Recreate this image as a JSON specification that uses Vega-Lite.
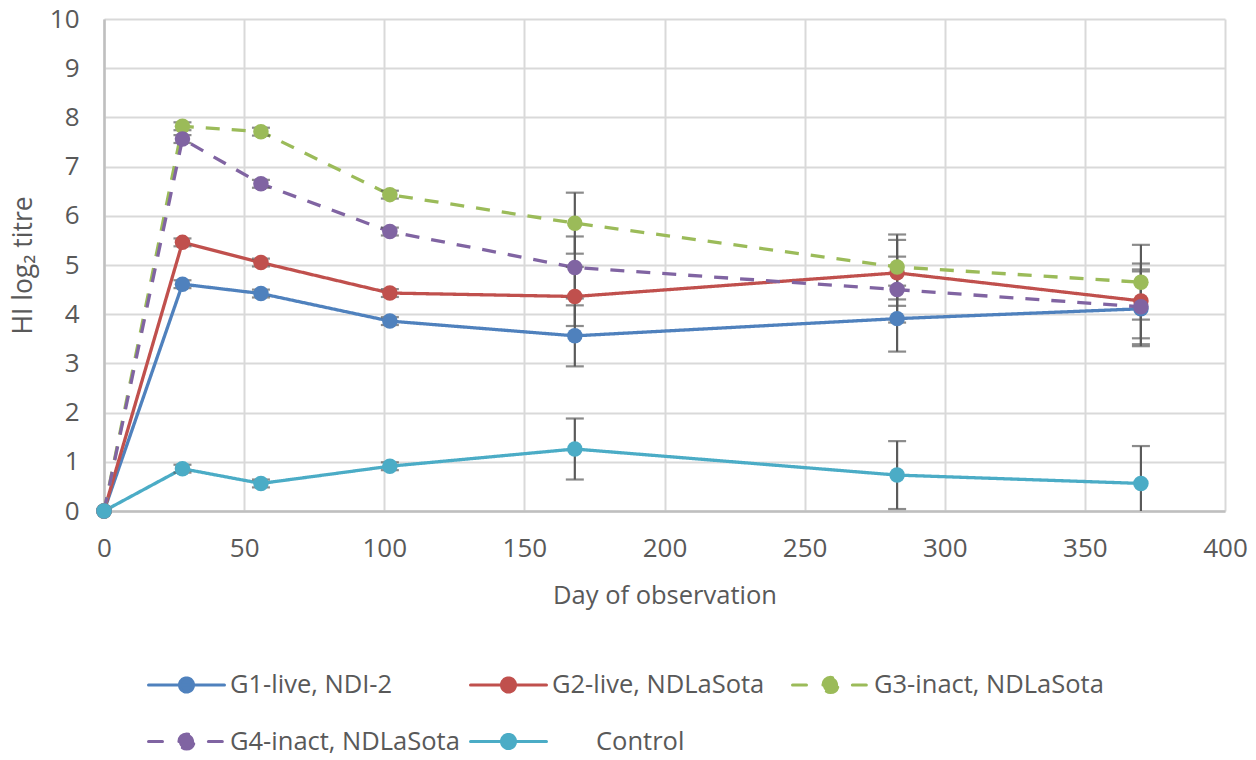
{
  "$schema": "https://vega.github.io/schema/vega-lite/v6.json",
  "width": 1121,
  "height": 492,
  "autosize": {"type": "none"},
  "padding": {"left": 104, "top": 19, "right": 31, "bottom": 249},
  "background": "white",
  "config": {
    "font": "Open Sans",
    "view": {"stroke": null},
    "axis": {
      "domainColor": "#BFBFBF",
      "domainWidth": 2.5,
      "gridColor": "#D9D9D9",
      "gridWidth": 2,
      "ticks": false,
      "tickSize": 0,
      "labelFlush": false,
      "labelFontSize": 26,
      "labelColor": "#595959",
      "titleColor": "#595959",
      "titleFontWeight": "normal",
      "titleFontSize": 25.5
    }
  },
  "data": {
    "values": [
      {"group": "G1-live, NDI-2", "day": 0, "titre": 0, "err": 0},
      {"group": "G1-live, NDI-2", "day": 28, "titre": 4.61, "err": 0.08},
      {"group": "G1-live, NDI-2", "day": 56, "titre": 4.42, "err": 0.08},
      {"group": "G1-live, NDI-2", "day": 102, "titre": 3.86, "err": 0.08},
      {"group": "G1-live, NDI-2", "day": 168, "titre": 3.56, "err": 0.62},
      {"group": "G1-live, NDI-2", "day": 283, "titre": 3.91, "err": 0.67},
      {"group": "G1-live, NDI-2", "day": 370, "titre": 4.11, "err": 0.76},
      {"group": "G2-live, NDLaSota", "day": 0, "titre": 0, "err": 0},
      {"group": "G2-live, NDLaSota", "day": 28, "titre": 5.46, "err": 0.08},
      {"group": "G2-live, NDLaSota", "day": 56, "titre": 5.05, "err": 0.08},
      {"group": "G2-live, NDLaSota", "day": 102, "titre": 4.43, "err": 0.08},
      {"group": "G2-live, NDLaSota", "day": 168, "titre": 4.36, "err": 0.6},
      {"group": "G2-live, NDLaSota", "day": 283, "titre": 4.84, "err": 0.67},
      {"group": "G2-live, NDLaSota", "day": 370, "titre": 4.27, "err": 0.76},
      {"group": "G3-inact, NDLaSota", "day": 0, "titre": 0, "err": 0},
      {"group": "G3-inact, NDLaSota", "day": 28, "titre": 7.82, "err": 0.08},
      {"group": "G3-inact, NDLaSota", "day": 56, "titre": 7.71, "err": 0.08},
      {"group": "G3-inact, NDLaSota", "day": 102, "titre": 6.43, "err": 0.08},
      {"group": "G3-inact, NDLaSota", "day": 168, "titre": 5.85, "err": 0.62},
      {"group": "G3-inact, NDLaSota", "day": 283, "titre": 4.96, "err": 0.66},
      {"group": "G3-inact, NDLaSota", "day": 370, "titre": 4.65, "err": 0.76},
      {"group": "G4-inact, NDLaSota", "day": 0, "titre": 0, "err": 0},
      {"group": "G4-inact, NDLaSota", "day": 28, "titre": 7.56, "err": 0.08},
      {"group": "G4-inact, NDLaSota", "day": 56, "titre": 6.65, "err": 0.08},
      {"group": "G4-inact, NDLaSota", "day": 102, "titre": 5.68, "err": 0.08},
      {"group": "G4-inact, NDLaSota", "day": 168, "titre": 4.95, "err": 0.63},
      {"group": "G4-inact, NDLaSota", "day": 283, "titre": 4.5, "err": 0.67},
      {"group": "G4-inact, NDLaSota", "day": 370, "titre": 4.15, "err": 0.76},
      {"group": "Control", "day": 0, "titre": 0, "err": 0},
      {"group": "Control", "day": 28, "titre": 0.86, "err": 0.08},
      {"group": "Control", "day": 56, "titre": 0.56, "err": 0.08},
      {"group": "Control", "day": 102, "titre": 0.91, "err": 0.08},
      {"group": "Control", "day": 168, "titre": 1.26, "err": 0.62},
      {"group": "Control", "day": 283, "titre": 0.73, "err": 0.69},
      {"group": "Control", "day": 370, "titre": 0.56, "err": 0.76}
    ]
  },
  "encoding": {
    "x": {
      "field": "day",
      "type": "quantitative",
      "scale": {"domain": [0, 400], "nice": false, "zero": true},
      "axis": {
        "values": [0, 50, 100, 150, 200, 250, 300, 350, 400],
        "title": "Day of observation",
        "labelPadding": 24,
        "titlePadding": 22
      }
    },
    "y": {
      "field": "titre",
      "type": "quantitative",
      "scale": {"domain": [0, 10], "nice": false},
      "axis": {
        "values": [0, 1, 2, 3, 4, 5, 6, 7, 8, 9, 10],
        "title": "HI log₂ titre",
        "titleFontSize": 26.5,
        "labelPadding": 25,
        "titlePadding": 12
      }
    },
    "color": {
      "field": "group",
      "type": "nominal",
      "scale": {
        "domain": ["G1-live, NDI-2", "G2-live, NDLaSota", "G3-inact, NDLaSota", "G4-inact, NDLaSota", "Control"],
        "range": ["#4F81BD", "#C0504D", "#9BBB59", "#8064A2", "#4BACC6"]
      },
      "legend": {
        "title": null,
        "orient": "none",
        "legendX": 62,
        "legendY": 645,
        "direction": "horizontal",
        "columns": 3,
        "gridAlign": "all",
        "columnPadding": 4,
        "rowPadding": 22,
        "symbolSize": 1444,
        "symbolStrokeWidth": 3,
        "labelFontSize": 25.5,
        "labelColor": "#595959",
        "labelOffset": 23,
        "labelLimit": 0,
        "encode": {
          "symbols": {
            "update": {
              "shape": {"signal": "indexof(['G3-inact, NDLaSota', 'G4-inact, NDLaSota'], datum.value) >= 0 ? 'M-2,0H-1.1M1.15,0H2M-0.4,0A0.4,0.4,0,1,1,0.4,0A0.4,0.4,0,1,1,-0.4,0Z' : 'M-2,0H2M-0.37,0A0.37,0.37,0,1,1,0.37,0A0.37,0.37,0,1,1,-0.37,0Z'"},
              "fill": {"scale": "color", "field": "value"},
              "stroke": {"scale": "color", "field": "value"},
              "strokeWidth": {"value": 3},
              "strokeCap": {"value": "round"},
              "opacity": {"value": 1}
            }
          },
          "labels": {
            "update": {
              "dx": {"signal": "datum.value == 'Control' ? 44 : 0"}
            }
          }
        }
      }
    }
  },
  "layer": [
    {
      "mark": {"type": "line", "strokeWidth": 3.3, "strokeJoin": "round"},
      "encoding": {
        "strokeDash": {
          "field": "group",
          "type": "nominal",
          "scale": {
            "domain": ["G1-live, NDI-2", "G2-live, NDLaSota", "G3-inact, NDLaSota", "G4-inact, NDLaSota", "Control"],
            "range": [[1, 0], [1, 0], [14, 12], [14, 12], [1, 0]]
          },
          "legend": null
        }
      }
    },
    {
      "transform": [{"filter": "datum.err > 0"}],
      "mark": {"type": "errorbar", "ticks": true, "size": 18, "thickness": 2.2, "color": "#5A5A5A", "clip": true},
      "encoding": {
        "yError": {"field": "err"},
        "color": {"value": "#5A5A5A"}
      }
    },
    {
      "mark": {"type": "circle", "size": 240, "opacity": 1}
    }
  ]
}
